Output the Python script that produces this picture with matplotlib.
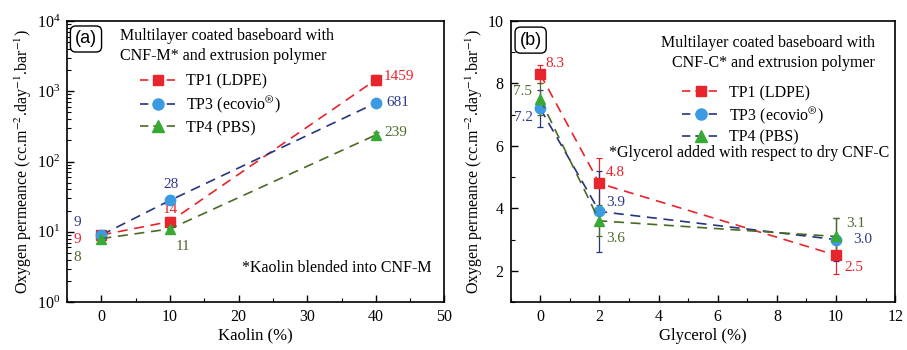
import numpy as np
import matplotlib
matplotlib.use('Agg')
import matplotlib.pyplot as plt
from matplotlib.lines import Line2D
from matplotlib.ticker import MultipleLocator, LogLocator, NullFormatter

plt.rcParams['font.family'] = ['Liberation Serif', 'DejaVu Serif']
plt.rcParams['mathtext.fontset'] = 'stix'
plt.rcParams['xtick.direction'] = 'in'
plt.rcParams['ytick.direction'] = 'in'

# Panel (a): kaolin content vs oxygen permeance
kaolin = [0, 10, 40]
a_tp1 = [9, 14, 1459]
a_tp1_err = [1.0, 2.0, 250]
a_tp3 = [9, 28, 681]
a_tp3_err = [1.0, 2.5, 70]
a_tp4 = [8, 11, 239]
a_tp4_err = [0.8, 1.2, 25]

# Panel (b): glycerol content vs oxygen permeance
glycerol = [0, 2, 10]
b_tp1 = [8.3, 4.8, 2.5]
b_tp1_err = [0.3, 0.8, 0.6]
b_tp3 = [7.2, 3.9, 3.0]
b_tp3_err = [0.6, 1.3, 0.7]
b_tp4 = [7.5, 3.6, 3.1]
b_tp4_err = [0.5, 0.5, 0.6]

series_names = ['TP1 (LDPE)', 'TP3 (ecovio$^{\\circledR}$)', 'TP4 (PBS)']

red_line, red_mk, red_txt = '#e8242c', '#e8242c', '#e8242c'
blue_line, blue_mk, blue_txt = '#26357f', '#3b9be0', '#2e3a87'
green_line, green_mk, green_txt = '#4a6a26', '#39a935', '#4f6b2e'

ylabel = 'Oxygen permeance (cc.m$^{-2}$.day$^{-1}$.bar$^{-1}$)'
fs = 11.5


def draw(ax, x, y, err, lc, mc, marker, ms):
    ax.errorbar(x, y, yerr=err, color=lc, lw=1.2, dashes=(6, 4),
                marker=marker, ms=ms, mfc=mc, mec=mc, ecolor=lc,
                elinewidth=0.9, capsize=2.5, capthick=0.9, zorder=3)


def handles(colors):
    out = []
    for (lc, mc), m, ms in zip(colors, ['s', 'o', '^'], [7, 8, 8]):
        out.append(Line2D([], [], color=lc, lw=1.2, dashes=(5, 3),
                          marker=m, ms=ms, mfc=mc, mec=mc))
    return out


def panel_tag(ax, s, x, y):
    ax.text(x, y, s, transform=ax.transAxes, ha='center', va='center',
            fontsize=13, family='Liberation Sans',
            bbox=dict(boxstyle='round,pad=0.25,rounding_size=0.3',
                      fc='white', ec='black', lw=1.0))


fig = plt.figure(figsize=(9.07, 3.5), dpi=100)
ax1 = fig.add_axes([0.074, 0.137, 0.416, 0.803])
ax2 = fig.add_axes([0.563, 0.137, 0.424, 0.803])

# ---- left panel
draw(ax1, kaolin, a_tp1, a_tp1_err, red_line, red_mk, 's', 7)
draw(ax1, kaolin, a_tp3, a_tp3_err, blue_line, blue_mk, 'o', 7.5)
draw(ax1, kaolin, a_tp4, a_tp4_err, green_line, green_mk, '^', 7.5)
ax1.set_yscale('log')
ax1.set_xlim(-5, 50)
ax1.set_ylim(1, 1e4)
ax1.xaxis.set_major_locator(MultipleLocator(10))
ax1.xaxis.set_minor_locator(MultipleLocator(5))
ax1.yaxis.set_major_locator(LogLocator(base=10, numticks=10))
ax1.yaxis.set_minor_locator(LogLocator(base=10, subs=np.arange(2, 10), numticks=20))
ax1.yaxis.set_minor_formatter(NullFormatter())
ax1.set_xlabel('Kaolin (%)', fontsize=12, labelpad=2)
ax1.set_ylabel(ylabel, fontsize=fs, labelpad=2)

for (x, y, s, c, ha) in [(-3.5, 13.5, '9', blue_txt, 'center'),
                         (-3.5, 7.7, '9', red_txt, 'center'),
                         (-3.5, 4.3, '8', green_txt, 'center'),
                         (10.2, 47, '28', blue_txt, 'center'),
                         (10.0, 21, '14', red_txt, 'center'),
                         (11.9, 6.1, '11', green_txt, 'center'),
                         (41.2, 1600, '1459', red_txt, 'left'),
                         (41.6, 690, '681', blue_txt, 'left'),
                         (41.2, 260, '239', green_txt, 'left')]:
    ax1.text(x, y, s, color=c, ha=ha, va='center', fontsize=11)

ax1.text(0.14, 0.91, 'Multilayer coated baseboard with\nCNF-M* and extrusion polymer',
         transform=ax1.transAxes, ha='left', va='center', fontsize=fs,
         linespacing=1.3)
ax1.text(0.965, 0.12, '*Kaolin blended into CNF-M', transform=ax1.transAxes,
         ha='right', va='center', fontsize=fs)
ax1.legend(handles([(red_line, red_mk), (blue_line, blue_mk), (green_line, green_mk)]),
           series_names, loc='upper left', bbox_to_anchor=(0.175, 0.835),
           frameon=False, fontsize=fs, handlelength=2.3, handletextpad=0.6,
           labelspacing=0.3, borderaxespad=0)
panel_tag(ax1, '(a)', 0.05, 0.936)

# ---- right panel
draw(ax2, glycerol, b_tp1, b_tp1_err, red_line, red_mk, 's', 7)
draw(ax2, glycerol, b_tp3, b_tp3_err, blue_line, blue_mk, 'o', 7.5)
draw(ax2, glycerol, b_tp4, b_tp4_err, green_line, green_mk, '^', 7.5)
ax2.set_xlim(-1, 12)
ax2.set_ylim(1, 10)
ax2.xaxis.set_major_locator(MultipleLocator(2))
ax2.xaxis.set_minor_locator(MultipleLocator(1))
ax2.yaxis.set_major_locator(MultipleLocator(2))
ax2.yaxis.set_minor_locator(MultipleLocator(1))
ax2.set_xlabel('Glycerol (%)', fontsize=12, labelpad=2)
ax2.set_ylabel(ylabel, fontsize=fs, labelpad=2)

for (x, y, s, c) in [(0.5, 8.65, '8.3', red_txt),
                     (-0.6, 7.75, '7.5', green_txt),
                     (-0.57, 6.9, '7.2', blue_txt),
                     (2.55, 5.15, '4.8', red_txt),
                     (2.55, 4.2, '3.9', blue_txt),
                     (2.55, 3.05, '3.6', green_txt),
                     (10.65, 3.5, '3.1', green_txt),
                     (10.9, 3.0, '3.0', blue_txt),
                     (10.6, 2.1, '2.5', red_txt)]:
    ax2.text(x, y, s, color=c, ha='center', va='center', fontsize=11)

ax2.text(0.948, 0.885, 'Multilayer coated baseboard with\nCNF-C* and extrusion polymer',
         transform=ax2.transAxes, ha='right', va='center', fontsize=fs,
         multialignment='right', linespacing=1.35)
ax2.text(0.985, 0.53, '*Glycerol added with respect to dry CNF-C',
         transform=ax2.transAxes, ha='right', va='center', fontsize=fs)
ax2.legend(handles([(red_line, red_mk), (blue_line, blue_mk), (blue_line, green_mk)]),
           series_names, loc='upper left', bbox_to_anchor=(0.43, 0.795),
           frameon=False, fontsize=fs, handlelength=2.3, handletextpad=0.6,
           labelspacing=0.25, borderaxespad=0)
panel_tag(ax2, '(b)', 0.052, 0.932)

for ax in (ax1, ax2):
    ax.tick_params(which='major', length=5, width=1, labelsize=fs, pad=5)
    ax.tick_params(which='minor', length=3, width=0.8)
    ax.tick_params(top=False, right=False, which='both')
    for sp in ax.spines.values():
        sp.set_linewidth(1.2)

fig.savefig('out.png', dpi=100)
